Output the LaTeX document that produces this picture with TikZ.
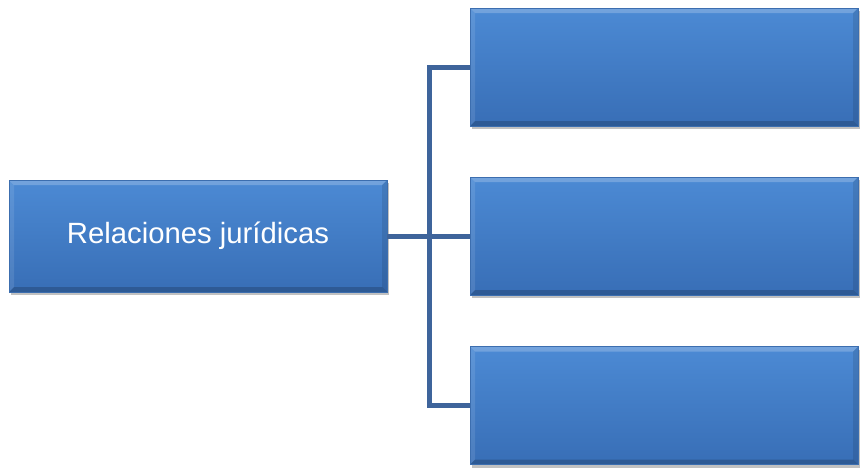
\documentclass[tikz,border=0pt]{standalone}
\usepackage{fontspec}
\setmainfont{Liberation Sans}
\usetikzlibrary{shadows}
\definecolor{boxtop}{RGB}{76,138,212}
\definecolor{boxbot}{RGB}{56,110,182}
\definecolor{boxedge}{RGB}{60,110,175}
\definecolor{linecol}{RGB}{62,100,155}
\begin{document}
\begin{tikzpicture}[x=1pt,y=-1pt,
  box/.style={rectangle, inner sep=0pt, top color=boxtop, bottom color=boxbot,
    draw=boxedge, line width=0.8pt,
    drop shadow={shadow xshift=2pt, shadow yshift=-3pt, opacity=0.35, fill=black!70},
    path picture={
      \fill[white, opacity=0.22] (path picture bounding box.north west) -- (path picture bounding box.north east)
        -- ([shift={(-5pt,-5pt)}]path picture bounding box.north east) -- ([shift={(5pt,-5pt)}]path picture bounding box.north west) -- cycle;
      \fill[white, opacity=0.1] (path picture bounding box.north west) -- ([shift={(5pt,-5pt)}]path picture bounding box.north west)
        -- ([shift={(5pt,5pt)}]path picture bounding box.south west) -- (path picture bounding box.south west) -- cycle;
      \fill[black, opacity=0.18] (path picture bounding box.south west) -- (path picture bounding box.south east)
        -- ([shift={(-5pt,5pt)}]path picture bounding box.south east) -- ([shift={(5pt,5pt)}]path picture bounding box.south west) -- cycle;
      \fill[black, opacity=0.1] (path picture bounding box.north east) -- ([shift={(-5pt,-5pt)}]path picture bounding box.north east)
        -- ([shift={(-5pt,5pt)}]path picture bounding box.south east) -- (path picture bounding box.south east) -- cycle;
    }},
  leftbox/.style={box, minimum width=378pt, minimum height=112pt},
  rightbox/.style={box, minimum width=388pt, minimum height=118pt},
  conn/.style={draw=linecol, line width=5pt, line join=miter},
  lbl/.style={text=white, font=\fontsize{29.3}{34}\selectfont}]
\useasboundingbox (0,0) rectangle (861,471);
\node[leftbox, lbl] (L) at (198,236) {Relaciones jurídicas};
\node[rightbox] (R1) at (664,67) {};
\node[rightbox] (R2) at (664,236) {};
\node[rightbox] (R3) at (664,405.5) {};
\coordinate (J) at (429.5,236);
\draw[conn] (R1.west) -| (J) |- (R3.west);
\draw[conn] (L.east) -- (R2.west);
\end{tikzpicture}
\end{document}
